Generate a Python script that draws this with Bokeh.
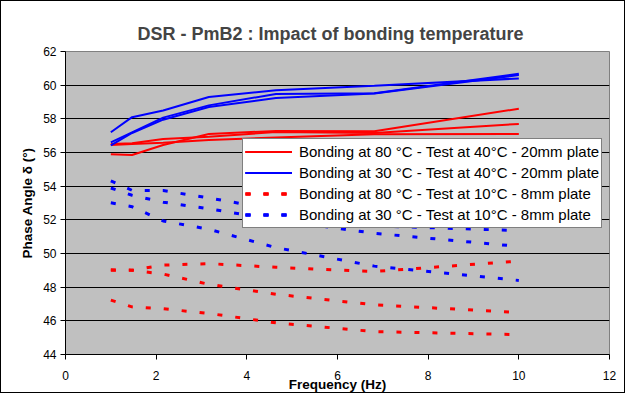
from bokeh.plotting import figure
from bokeh.models import Legend, LegendItem, FixedTicker
from bokeh.embed import file_html
from bokeh.resources import INLINE

# ---- data ----
FREQ = [1.0, 1.468, 2.154, 3.162, 4.642, 6.813, 10.0]

RED_40_1 = [55.9, 55.85, 56.45, 57.1, 57.28, 57.26, 58.6]
RED_40_2 = [56.5, 56.55, 56.8, 56.93, 57.22, 57.16, 57.7]
RED_40_3 = [56.45, 56.5, 56.58, 56.74, 56.89, 57.09, 57.1]

BLUE_40_1 = [57.2, 58.1, 58.5, 59.3, 59.7, 59.97, 60.4]
BLUE_40_2 = [56.6, 57.2, 58.07, 58.8, 59.48, 59.52, 60.68]
BLUE_40_3 = [56.42, 57.16, 57.95, 58.7, 59.24, 59.5, 60.6]

RED_10_1 = [49.03, 49.01, 49.31, 49.4, 49.18, 48.93, 49.55]
RED_10_2 = [49.0, 49.0, 48.78, 48.17, 47.58, 46.95, 46.5]
RED_10_3 = [47.23, 46.83, 46.72, 46.44, 45.88, 45.36, 45.18]

BLUE_10_1 = [54.32, 53.75, 53.74, 53.3, 52.6, 51.64, 51.36]
BLUE_10_2 = [53.89, 53.46, 53.05, 52.66, 52.0, 51.2, 50.42]
BLUE_10_3 = [53.01, 52.78, 51.93, 51.44, 50.35, 49.25, 48.4]

LABELS = [
    "Bonding at 80 °C - Test at 40°C - 20mm plate",
    "Bonding at 30 °C - Test at 40°C - 20mm plate",
    "Bonding at 80 °C - Test at 10°C - 8mm plate",
    "Bonding at 30 °C - Test at 10°C - 8mm plate",
]
X_TICKS = [0, 2, 4, 6, 8, 10, 12]
Y_TICKS = [44, 46, 48, 50, 52, 54, 56, 58, 60, 62]

FONT = "Liberation Sans"
RED = "#FF0000"
BLUE = "#0000FF"

p = figure(width=625, height=393, x_range=(0, 12), y_range=(44, 62),
           output_backend="svg", toolbar_location=None,
           min_border_left=64, min_border_right=17,
           min_border_top=50, min_border_bottom=38,
           background_fill_color="#C0C0C0", border_fill_color="white")
p.styles = {"border": "1px solid black"}
p.outline_line_color = "#808080"

p.title.text = "DSR - PmB2 : Impact of bonding temperature"
p.title.align = "left"
p.title.offset = 72
p.title.text_font = FONT
p.title.text_font_size = "18px"
p.title.text_font_style = "bold"
p.title.standoff = 16

p.xgrid.grid_line_color = None
p.ygrid.grid_line_color = "black"
p.ygrid.grid_line_width = 1

p.xaxis.ticker = FixedTicker(ticks=X_TICKS)
p.yaxis.ticker = FixedTicker(ticks=Y_TICKS)
for ax in (p.xaxis[0], p.yaxis[0]):
    ax.axis_line_color = "black"
    ax.major_tick_line_color = "black"
    ax.major_tick_out = 5
    ax.major_tick_in = 0
    ax.minor_tick_line_color = None
    ax.major_label_text_font = FONT
    ax.major_label_text_font_size = "12px"
    ax.major_label_text_color = "black"
    ax.axis_label_text_font = FONT
    ax.axis_label_text_font_size = "13.5px"
    ax.axis_label_text_font_style = "bold"
    ax.axis_label_text_color = "black"

p.xaxis.axis_label = "Frequency (Hz)"
p.xaxis.major_label_standoff = 11
p.xaxis.axis_label_standoff = -6
p.yaxis.axis_label = "Phase Angle δ (°)"
p.yaxis.major_label_standoff = 4
p.yaxis.axis_label_standoff = 5

groups = [
    ([RED_40_1, RED_40_2, RED_40_3], RED, None),
    ([BLUE_40_1, BLUE_40_2, BLUE_40_3], BLUE, None),
    ([RED_10_1, RED_10_2, RED_10_3], RED, "5 13"),
    ([BLUE_10_1, BLUE_10_2, BLUE_10_3], BLUE, "5 13"),
]
items = []
for (series, color, dash), label in zip(groups, LABELS):
    rs = []
    for ys in series:
        if dash is None:
            r = p.line(FREQ, ys, line_color=color, line_width=2)
        else:
            r = p.line(FREQ, ys, line_color=color, line_width=3,
                       line_dash=dash, line_cap="butt")
        rs.append(r)
    items.append(LegendItem(label=label, renderers=rs))

legend = Legend(items=items, location=(177, 126))
legend.background_fill_color = "white"
legend.background_fill_alpha = 1
legend.border_line_color = "black"
legend.border_line_width = 1
legend.label_text_font = FONT
legend.label_text_font_size = "15px"
legend.label_text_color = "black"
legend.padding = 2
legend.margin = 0
legend.spacing = 0
legend.label_height = 21
legend.glyph_height = 21
legend.glyph_width = 47
legend.label_standoff = 7
p.add_layout(legend)

open("out.html", "w").write(file_html(p, INLINE))
